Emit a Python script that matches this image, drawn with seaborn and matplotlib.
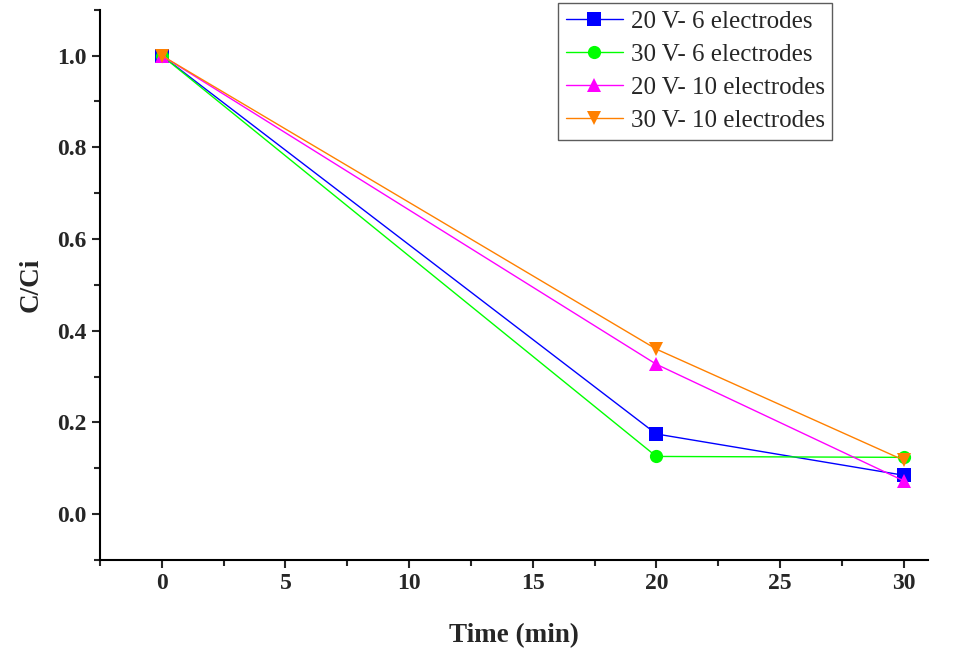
import pandas as pd
import seaborn as sns
import matplotlib.pyplot as plt
from matplotlib.ticker import MultipleLocator

# dados
tempo = [0, 20, 30]
v20_6 = [1.0, 0.175, 0.085]
v30_6 = [1.0, 0.126, 0.124]
v20_10 = [1.0, 0.327, 0.073]
v30_10 = [1.0, 0.360, 0.118]
nomes = ['20 V- 6 electrodes', '30 V- 6 electrodes', '20 V- 10 electrodes', '30 V- 10 electrodes']

series = [v20_6, v30_6, v20_10, v30_10]
df = pd.DataFrame({
    'tempo': tempo * len(series),
    'cci': [v for s in series for v in s],
    'serie': [n for n in nomes for _ in tempo],
})

sns.set_style('ticks')
plt.rcParams['font.family'] = ['Liberation Serif', 'DejaVu Serif']

cores = ['#0000FF', '#00FF00', '#FF00FF', '#FF8000']
marcadores = ['s', 'o', '^', 'v']

fig = plt.figure(figsize=(9.57, 6.49), dpi=100)
ax = fig.add_axes([0.1045, 0.137, 0.8655, 0.848])
sns.lineplot(data=df, x='tempo', y='cci', hue='serie', style='serie',
             palette=cores, markers=marcadores, dashes=False, linewidth=1,
             markersize=9.5, markeredgewidth=0, ax=ax)

ax.set_xlim(-2.5, 31)
ax.set_ylim(-0.1, 1.1)
ax.xaxis.set_major_locator(MultipleLocator(5))
ax.xaxis.set_minor_locator(MultipleLocator(2.5))
ax.yaxis.set_major_locator(MultipleLocator(0.2))
ax.yaxis.set_minor_locator(MultipleLocator(0.1))
ax.yaxis.set_major_formatter(plt.FuncFormatter(lambda v, p: f'{v:.1f}'))
ax.tick_params(which='major', direction='out', length=6, width=1.5, labelsize=17)
ax.tick_params(which='minor', direction='out', length=4, width=1.5)
for lbl in ax.get_xticklabels() + ax.get_yticklabels():
    lbl.set_fontweight('bold')
for lado in ['top', 'right']:
    ax.spines[lado].set_visible(False)
for lado in ['left', 'bottom']:
    ax.spines[lado].set_linewidth(1.5)
    ax.spines[lado].set_color('black')

ax.set_xlabel('Time (min)', fontsize=19.5, fontweight='bold', labelpad=21)
ax.set_ylabel('C/Ci', fontsize=19.5, fontweight='bold', labelpad=10)

leg = ax.legend(title=None, loc='upper right', bbox_to_anchor=(0.884, 1.012),
                fontsize=18, frameon=True, fancybox=False, borderpad=0.3,
                labelspacing=0.42, handlelength=2.3, handletextpad=0.3,
                borderaxespad=0)
leg.get_frame().set_edgecolor('#333333')
leg.get_frame().set_linewidth(1)

plt.savefig('out.png', dpi=100)
